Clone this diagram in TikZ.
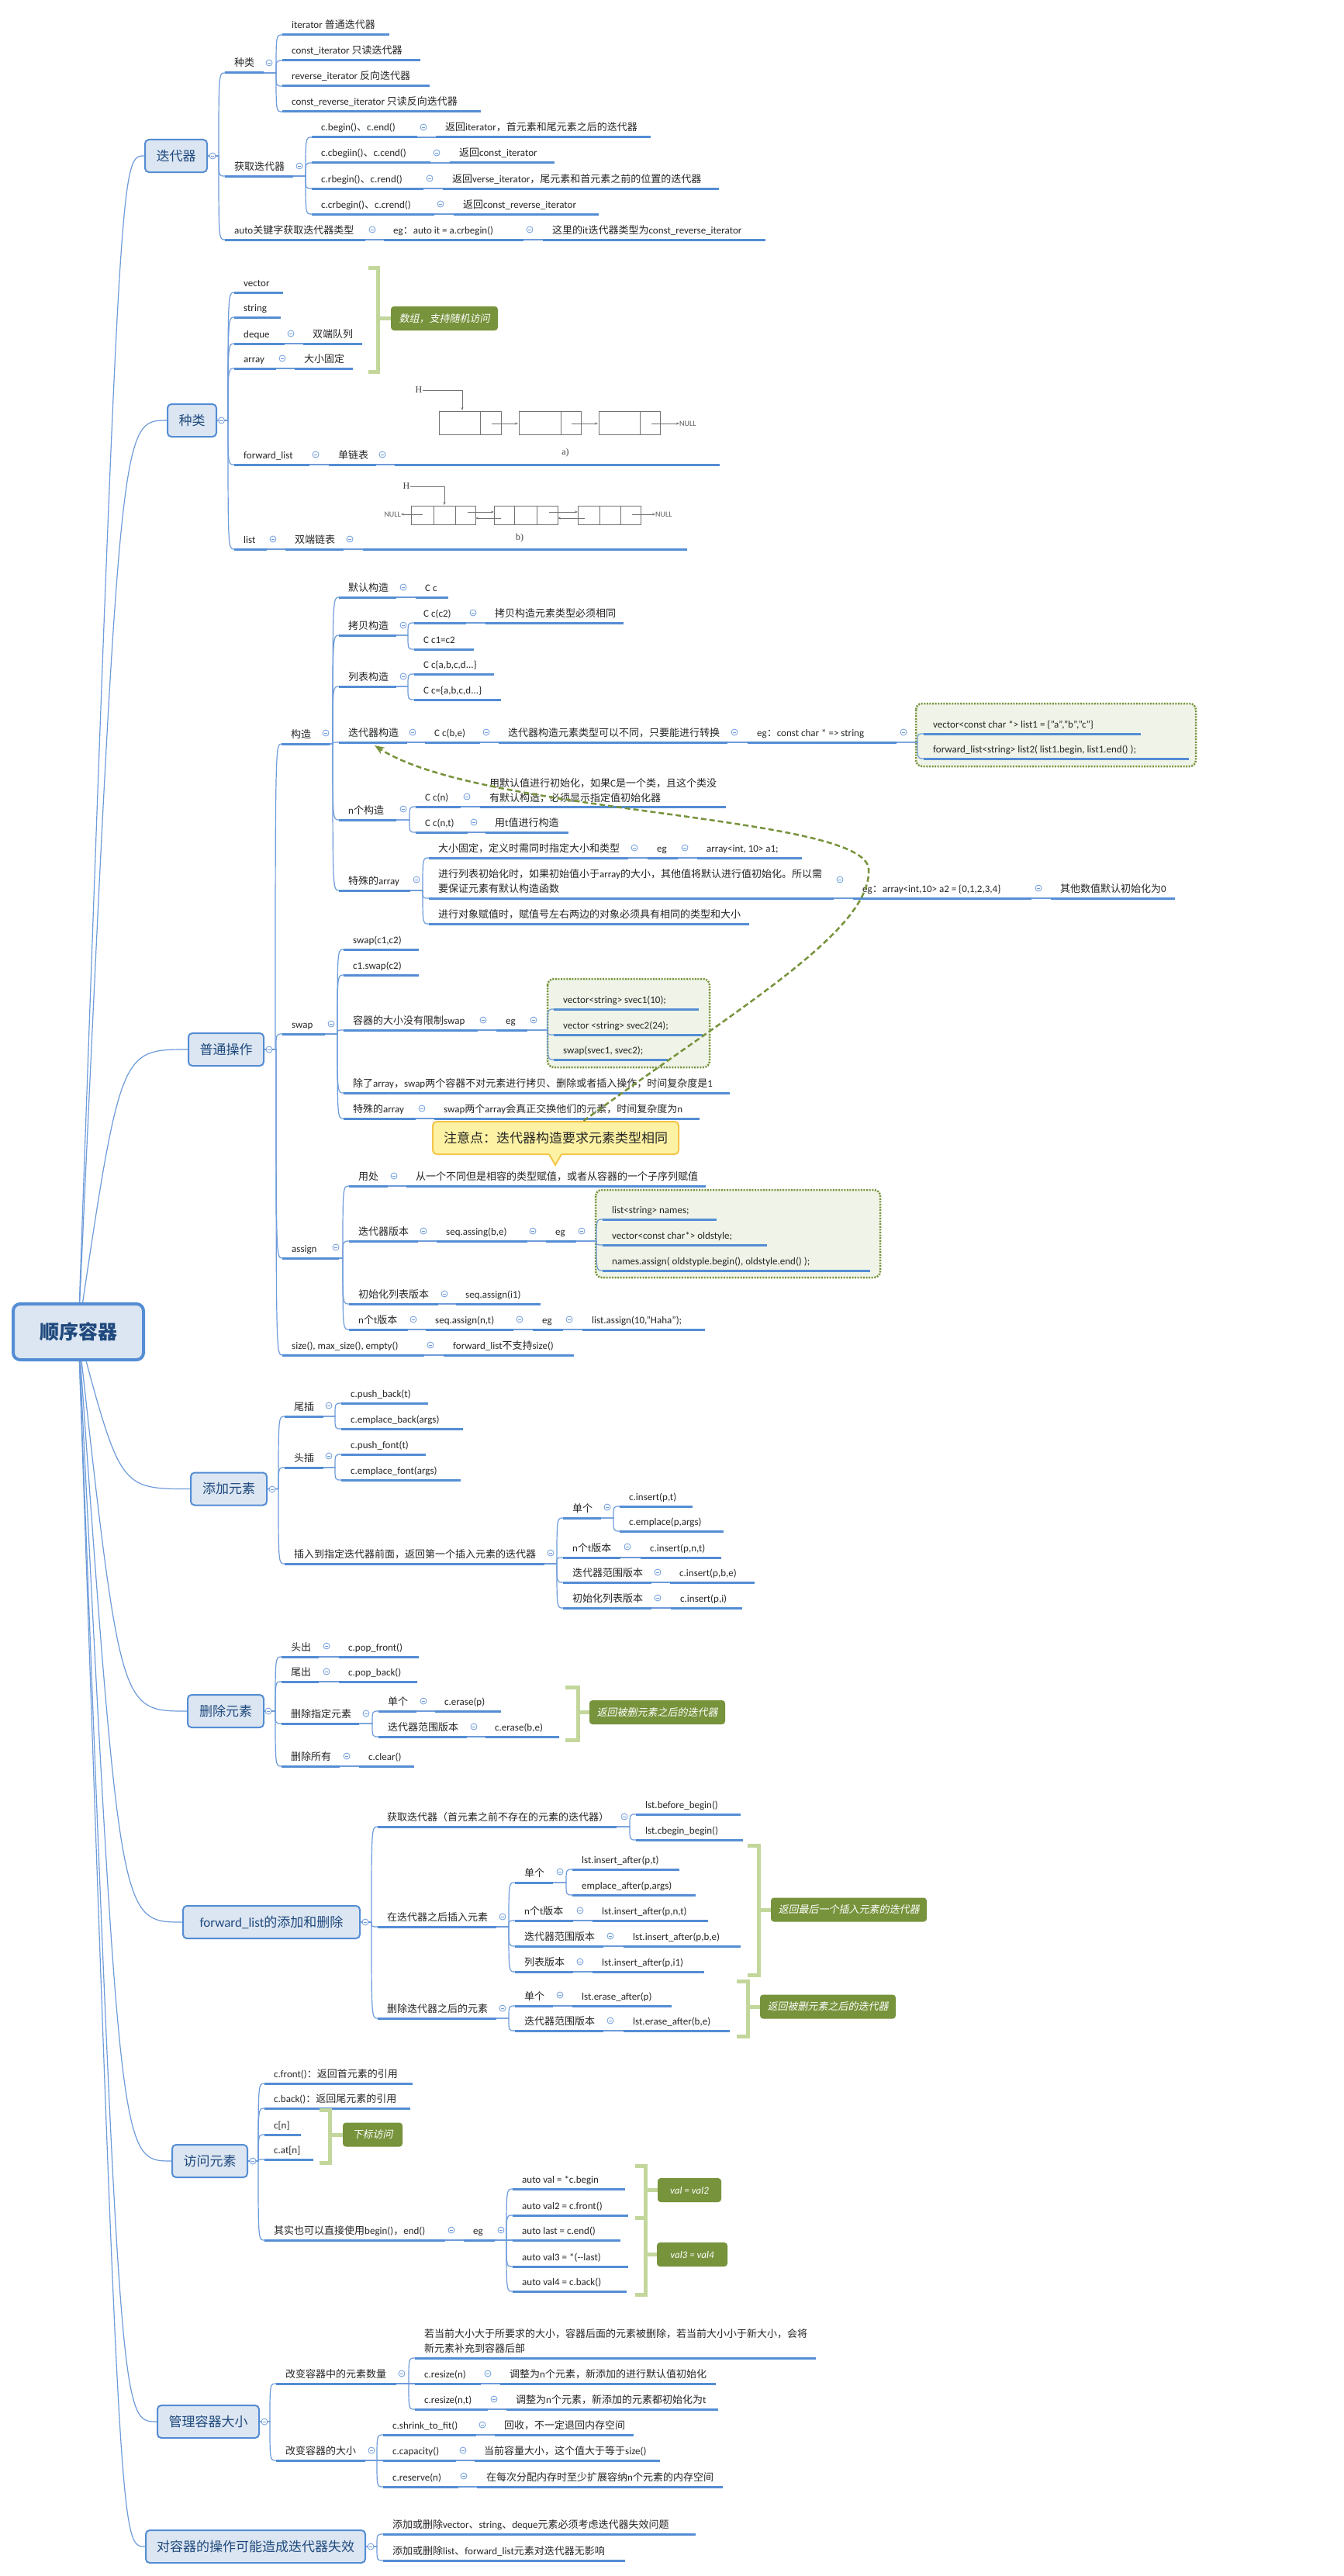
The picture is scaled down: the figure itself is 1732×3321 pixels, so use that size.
\documentclass[tikz,border=0pt]{standalone}
\usepackage{fontspec}
\setmainfont{Carlito}
\newfontfamily\latinfont{Carlito}
\newfontfamily\cjkfont[AutoFakeSlant=0.2]{Noto Sans CJK SC}
\newfontfamily\serifff{Liberation Serif}
\XeTeXinterchartokenstate=1
\newXeTeXintercharclass\cjkcls
\newcount\cjkcnt
\cjkcnt="3000
\loop\XeTeXcharclass\cjkcnt=\cjkcls
\ifnum\cjkcnt<"303F \advance\cjkcnt by 1 \repeat
\cjkcnt="4E00
\loop\XeTeXcharclass\cjkcnt=\cjkcls
\ifnum\cjkcnt<"9FFF \advance\cjkcnt by 1 \repeat
\cjkcnt="FF00
\loop\XeTeXcharclass\cjkcnt=\cjkcls
\ifnum\cjkcnt<"FFEF \advance\cjkcnt by 1 \repeat
\XeTeXinterchartoks 0 \cjkcls = {\cjkfont}
\XeTeXinterchartoks 4095 \cjkcls = {\cjkfont}
\XeTeXinterchartoks \cjkcls 0 = {\latinfont}
\XeTeXinterchartoks \cjkcls 4095 = {\latinfont}
\usetikzlibrary{calc,arrows.meta}
\pgfdeclarelayer{bglayer}
\pgfdeclarelayer{linelayer}
\pgfsetlayers{bglayer,linelayer,main}
\definecolor{ublue}{HTML}{548DD4}
\definecolor{cblue}{HTML}{6D9BDA}
\definecolor{boxfill}{HTML}{DCE6F2}
\definecolor{boxtext}{HTML}{1F497D}
\definecolor{gfill}{HTML}{77933C}
\definecolor{brkc}{HTML}{C3D69B}
\definecolor{dotfill}{HTML}{F0F4E8}
\definecolor{callfill}{HTML}{FDF2A4}
\definecolor{callline}{HTML}{F4C54B}
\definecolor{txt}{HTML}{262626}
\newcommand\mTP[5]{%
  \node[ubar,minimum width=#4,anchor=west] (#1) at (#2,#3) {};
  \draw[uline] (#1.west) -- (#1.east);
  \node[ttext,anchor=base west] (#1-t) at ([xshift=12pt,yshift=8pt]#1.west) {#5};}
\newcommand\mTPM[6]{%
  \node[ubar,minimum width=#4,anchor=west] (#1) at (#2,#3) {};
  \draw[uline] (#1.west) -- (#1.east);
  \node[ttext,anchor=north west] (#1-t) at (#2+12,#5) {#6};}
\newcommand\mMK[2]{\draw[mk] (#1,#2) circle[radius=4pt]; \draw[mkm] (#1-2.2,#2) -- (#1+2.2,#2);}
\newcommand\mBR[2]{\draw[conn] (#1.east) -- ($(#2.west |- #1.east)+(-8,0)$) .. controls ($(#2.west)+(-8,0)$) .. (#2.west);}
\newcommand\mLN[2]{\draw[conn] (#1.east) -- (#2.west);}
\newcommand\mRT[1]{\draw[conn] (root.center) .. controls (rctl |- #1.west) .. (#1.west);}
\newcommand\mBRK[5]{\draw[brkline] (#1,#3) -- (#2,#3) -- (#2,#4) -- (#1,#4);
  \coordinate (bk) at (#2,0); \draw[brkline] (bk |- #5.west) -- (#5.west);}
\begin{document}
\begin{tikzpicture}[x=1pt,y=-1pt,font=\fontsize{13}{19.5}\selectfont,
  ubar/.style={inner sep=0pt,minimum height=0pt,outer sep=0pt},
  uline/.style={draw=ublue,line width=3pt},
  ttext/.style={inner sep=0pt,text=txt,align=left},
  conn/.style={draw=cblue,line width=1.2pt},
  mk/.style={draw=cblue,fill=white,line width=0.8pt},
  mkm/.style={draw=cblue,line width=0.8pt},
  mainbox/.style={draw=ublue,line width=2pt,fill=boxfill,rounded corners=5pt,text=boxtext,font=\fontsize{17}{20}\selectfont,inner sep=0pt,minimum height=42pt},
  rootbox/.style={draw=ublue,line width=4pt,fill=boxfill,rounded corners=9pt,text=boxtext,font=\fontsize{25}{30}\selectfont\bfseries,minimum width=168pt,minimum height=72pt,inner sep=0pt},
  glabel/.style={fill=gfill,rounded corners=4pt,text=white,font=\fontsize{13}{16}\selectfont\itshape,inner sep=0pt,minimum height=31pt},
  brkline/.style={draw=brkc,line width=5pt},
  dotbox/.style={draw=gfill,line width=2.5pt,dash pattern=on 2pt off 1.6pt,fill=dotfill,rounded corners=8pt},
  callout/.style={draw=callline,line width=2pt,fill=callfill,rounded corners=5pt,font=\fontsize{17}{20}\selectfont,minimum width=317pt,minimum height=42pt,inner sep=0pt,text=txt},
  pic/.style={draw=black!55,line width=0.8pt},
  picarr/.style={pic,-{Stealth[length=4pt,width=3pt]}},
  serift/.style={font=\serifff\fontsize{12}{14}\selectfont,text=black!75,inner sep=0pt},
  nullt/.style={font=\fontsize{10}{12}\selectfont,text=black!65,inner sep=0pt},
  dasharr/.style={draw=gfill,line width=2.5pt,dash pattern=on 7pt off 4pt,-{Stealth[length=13pt,width=10pt]}}]
\useasboundingbox (0,0) rectangle (1732,3321);
\begin{pgfonlayer}{bglayer}
\fill[white] (0,0) rectangle (1732,3321);
\draw[dotbox] (1181,907) rectangle (1542,988);
\draw[dotbox] (706,1262) rectangle (915,1376);
\draw[dotbox] (768,1534) rectangle (1135,1647);
\end{pgfonlayer}
\coordinate (rctl) at (155,0);
% root and main boxes
\node[rootbox] (root) at (101,1717) {顺序容器};
\node[mainbox,minimum width=80] (it) at (227,201) {迭代器};
\node[mainbox,minimum width=63] (kind) at (247.5,542) {种类};
\node[mainbox,minimum width=97] (ops) at (291.5,1353) {普通操作};
\node[mainbox,minimum width=98] (add) at (295,1919.5) {添加元素};
\node[mainbox,minimum width=98] (del) at (291,2206) {删除元素};
\node[mainbox,minimum width=228] (fwd) at (350,2478) {forward\_list的添加和删除};
\node[mainbox,minimum width=97] (acc) at (270.5,2786) {访问元素};
\node[mainbox,minimum width=131] (mgr) at (268.5,3122) {管理容器大小};
\node[mainbox,minimum width=283] (inv) at (329.5,3283) {对容器的操作可能造成迭代器失效};
\mMK{274}{201}\mMK{285.5}{542}\mMK{347}{1353}\mMK{351}{1920}\mMK{346}{2206}\mMK{471}{2478}\mMK{326}{2786}\mMK{341}{3122}\mMK{478}{3283}
% iterators
\mTP{itk}{290}{94}{50}{种类}\mMK{347}{81}
\mTP{itk1}{364}{45}{138}{iterator 普通迭代器}
\mTP{itk2}{364}{78}{178}{const\_iterator 只读迭代器}
\mTP{itk3}{364}{111}{190}{reverse\_iterator 反向迭代器}
\mTP{itk4}{364}{144}{256}{const\_reverse\_iterator 只读反向迭代器}
\mTP{itg}{290}{227}{88}{获取迭代器}\mMK{386}{214}
\mTP{itg1}{402}{177}{136}{c.begin()、c.end()}\mMK{546}{164}
\mTP{itg1b}{562}{177}{277}{返回iterator，首元素和尾元素之后的迭代器}
\mTP{itg2}{402}{210}{153}{c.cbegiin()、c.cend()}\mMK{563}{197}
\mTP{itg2b}{580}{210}{135}{返回const\_iterator}
\mTP{itg3}{402}{243}{144}{c.rbegin()、c.rend()}\mMK{554}{230}
\mTP{itg3b}{571}{243}{356}{返回verse\_iterator，尾元素和首元素之前的位置的迭代器}
\mTP{itg4}{402}{276}{158}{c.crbegin()、c.crend()}\mMK{568}{263}
\mTP{itg4b}{585}{276}{187}{返回const\_reverse\_iterator}
\mTP{ita}{290}{309}{181}{auto关键字获取迭代器类型}\mMK{480}{296}
\mTP{ita2}{495}{309}{180}{eg：auto it = a.crbegin()}\mMK{683}{296}
\mTP{ita3}{700}{309}{287}{这里的it迭代器类型为const\_reverse\_iterator}
% kinds
\mTP{kv}{302}{377}{63}{vector}
\mTP{ks}{302}{409}{60}{string}
\mTP{kd}{302}{443}{65}{deque}\mMK{375}{430}
\mTP{kd2}{391}{443}{76}{双端队列}
\mTP{ka}{302}{475}{54}{array}\mMK{364}{462}
\mTP{ka2}{380}{475}{75}{大小固定}
\node[glabel,minimum width=138] (arrlab) at (573,410.5) {数组，支持随机访问};
\mBRK{475}{487}{345}{479}{arrlab}
\mTP{kf}{302}{599}{97}{forward\_list}\mMK{407}{586}
\mTP{kf2}{424}{599}{61}{单链表}\mMK{493}{586}
\mTP{kf3}{509}{599}{419}{}
\mTP{kl}{302}{708}{42}{list}\mMK{352}{695}
\mTP{kl2}{368}{708}{75}{双端链表}\mMK{451}{695}
\mTP{kl3}{468}{708}{418}{}
% picture a
\node[serift] (Ha) at (540,503) {H};
\draw[picarr] (Ha.east) -| (596,529);
\draw[pic] (566,530) rectangle (646,560) (619,530) -- (619,560);
\draw[pic] (669,530) rectangle (749,560) (723,530) -- (723,560);
\draw[pic] (772,530) rectangle (851,560) (825,530) -- (825,560);
\draw[picarr] (634,546) -- (668,546);
\draw[picarr] (737,546) -- (771,546);
\node[nullt,anchor=west] (Na) at (876,546) {NULL};
\draw[picarr] (840,546) -- (Na.west);
\node[serift] (la) at (729,584) {a)};
% picture b
\node[serift] (Hb) at (524,627) {H};
\draw[picarr] (Hb.east) -| (573,651);
\draw[pic] (530,652) rectangle (613,676) (559,652) -- (559,676) (587,652) -- (587,676);
\draw[pic] (637,652) rectangle (719,676) (663,652) -- (663,676) (692,652) -- (692,676);
\draw[pic] (745,652) rectangle (826,676) (773,652) -- (773,676) (800,652) -- (800,676);
\node[nullt,anchor=east] (Nb1) at (517,663) {NULL};
\draw[picarr] (545,663) -- (Nb1.east);
\draw[picarr] (603,660) -- (637,660);
\draw[picarr] (646,668) -- (613,668);
\draw[picarr] (708,660) -- (745,660);
\draw[picarr] (754,668) -- (719,668);
\node[nullt,anchor=west] (Nb2) at (845,663) {NULL};
\draw[picarr] (815,663) -- (Nb2.west);
\node[serift] (lb) at (670,694) {b)};
% construct
\mTP{gz}{363}{959}{62}{构造}\mMK{420}{945}
\mTP{gz1}{437}{770}{74}{默认构造}\mMK{520}{757}
\mTP{gz1b}{536}{770}{42}{C c}
\mTP{gz2}{437}{819}{74}{拷贝构造}\mMK{520}{806}
\mTP{gz2a}{534}{803}{67}{C c(c2)}\mMK{610}{790}
\mTP{gz2ab}{626}{803}{178}{拷贝构造元素类型必须相同}
\mTP{gz2b}{534}{837}{77}{C c1=c2}
\mTP{gz3}{437}{885}{74}{列表构造}\mMK{520}{872}
\mTP{gz3a}{534}{869}{103}{C c\{a,b,c,d...\}}
\mTP{gz3b}{534}{902}{112}{C c=\{a,b,c,d...\}}
\mTP{gz4}{437}{957}{88}{迭代器构造}\mMK{532}{944}
\mTP{gz4b}{548}{957}{71}{C c(b,e)}\mMK{627}{944}
\mTP{gz4c}{643}{957}{295}{迭代器构造元素类型可以不同，只要能进行转换}\mMK{947}{944}
\mTP{gz4d}{964}{957}{192}{eg：const char * => string}\mMK{1165}{944}
\mTP{gz4e}{1191}{946}{280}{vector<const char *> list1 = \{"a","b","c"\}}
\mTP{gz4f}{1191}{978}{342}{forward\_list<string> list2( list1.begin, list1.end() );}
\mTP{gz5}{437}{1057}{74}{n个构造}\mMK{520}{1043}
\mTP{gz5a}{536}{1040}{58}{C c(n)}\mMK{602}{1027}
\mTPM{gz5ab}{619}{1040}{317}{1003}{用默认值进行初始化，如果C是一个类，且这个类没\\有默认构造，必须显示指定值初始化器}
\mTP{gz5b}{536}{1073}{67}{C c(n,t)}\mMK{611}{1060}
\mTP{gz5bb}{626}{1073}{107}{用t值进行构造}
\mTP{gz6}{437}{1148}{92}{特殊的array}\mMK{537}{1134}
\mTP{gz6a}{553}{1106}{257}{大小固定，定义时需同时指定大小和类型}\mMK{818}{1093}
\mTP{gz6ab}{835}{1106}{39}{eg}\mMK{883}{1093}
\mTP{gz6ac}{899}{1106}{135}{array<int, 10> a1;}
\mTPM{gz6b}{553}{1158}{522}{1120}{进行列表初始化时，如果初始值小于array的大小，其他值将默认进行值初始化。所以需\\要保证元素有默认构造函数}\mMK{1083}{1134}
\mTP{gz6bb}{1100}{1158}{230}{eg：array<int,10> a2 = \{0,1,2,3,4\}}\mMK{1339}{1145}
\mTP{gz6bc}{1355}{1158}{160}{其他数值默认初始化为0}
\mTP{gz6c}{553}{1191}{413}{进行对象赋值时，赋值号左右两边的对象必须具有相同的类型和大小}
% swap
\mTP{sw}{364}{1333}{55}{swap}\mMK{427}{1320}
\mTP{sw1}{443}{1224}{97}{swap(c1,c2)}
\mTP{sw2}{443}{1257}{97}{c1.swap(c2)}
\mTP{sw3}{443}{1328}{173}{容器的大小没有限制swap}\mMK{623}{1315}
\mTP{sw3b}{640}{1328}{40}{eg}\mMK{688}{1315}
\mTP{sw3c}{714}{1301}{187}{vector<string> svec1(10);}
\mTP{sw3d}{714}{1334}{192}{vector <string> svec2(24);}
\mTP{sw3e}{714}{1366}{147}{swap(svec1, svec2);}
\mTP{sw4}{443}{1409}{498}{除了array，swap两个容器不对元素进行拷贝、删除或者插入操作，时间复杂度是1}
\mTP{sw5}{443}{1442}{93}{特殊的array}\mMK{544}{1429}
\mTP{sw5b}{560}{1442}{342}{swap两个array会真正交换他们的元素，时间复杂度为n}
% assign
\mTP{as}{364}{1622}{73}{assign}\mMK{433}{1608}
\mTP{as1}{450}{1529}{50}{用处}\mMK{508}{1516}
\mTP{as1b}{524}{1529}{386}{从一个不同但是相容的类型赋值，或者从容器的一个子序列赋值}
\mTP{as2}{450}{1600}{89}{迭代器版本}\mMK{546}{1587}
\mTP{as2b}{563}{1600}{117}{seq.assing(b,e)}\mMK{687}{1587}
\mTP{as2c}{704}{1600}{39}{eg}\mMK{750}{1587}
\mTP{as2d}{777}{1572}{147}{list<string> names;}
\mTP{as2e}{777}{1605}{212}{vector<const char*> oldstyle;}
\mTP{as2f}{777}{1638}{345}{names.assign( oldstyple.begin(), oldstyle.end() );}
\mTP{as3}{450}{1681}{115}{初始化列表版本}\mMK{573}{1668}
\mTP{as3b}{588}{1681}{109}{seq.assign(i1)}
\mTP{as4}{450}{1714}{76}{n个t版本}\mMK{533}{1701}
\mTP{as4b}{549}{1714}{113}{seq.assign(n,t)}\mMK{670}{1701}
\mTP{as4c}{687}{1714}{39}{eg}\mMK{734}{1701}
\mTP{as4d}{751}{1714}{158}{list.assign(10,"Haha");}
\mTP{sz}{364}{1747}{183}{size(), max\_size(), empty()}\mMK{555}{1734}
\mTP{sz2}{572}{1747}{168}{forward\_list不支持size()}
% callout
\node[callout] (note) at (716.5,1467) {注意点：迭代器构造要求元素类型相同};
\fill[callfill] (707,1486) -- (725,1486) -- (716,1502) -- cycle;
\draw[draw=callline,line width=2pt] (708,1488) -- (716,1502) -- (724,1488);
% add
\mTP{ad1}{367}{1826}{50}{尾插}\mMK{424}{1812}
\mTP{ad1a}{440}{1809}{112}{c.push\_back(t)}
\mTP{ad1b}{440}{1842}{157}{c.emplace\_back(args)}
\mTP{ad2}{367}{1892}{50}{头插}\mMK{424}{1877}
\mTP{ad2a}{440}{1875}{109}{c.push\_font(t)}
\mTP{ad2b}{440}{1908}{154}{c.emplace\_font(args)}
\mTP{ad3}{367}{2016}{335}{插入到指定迭代器前面，返回第一个插入元素的迭代器}\mMK{710}{2002}
\mTP{ad3a}{726}{1957}{49}{单个}\mMK{783}{1943}
\mTP{ad3a1}{799}{1942}{94}{c.insert(p,t)}
\mTP{ad3a2}{799}{1974}{134}{c.emplace(p,args)}
\mTP{ad3b}{726}{2008}{74}{n个t版本}\mMK{809}{1994}
\mTP{ad3b2}{826}{2008}{104}{c.insert(p,n,t)}
\mTP{ad3c}{726}{2040}{114}{迭代器范围版本}\mMK{848}{2027}
\mTP{ad3c2}{864}{2040}{109}{c.insert(p,b,e)}
\mTP{ad3d}{726}{2073}{114}{初始化列表版本}\mMK{848}{2060}
\mTP{ad3d2}{865}{2073}{92}{c.insert(p,i)}
% delete
\mTP{dl1}{363}{2136}{48}{头出}\mMK{421}{2122}
\mTP{dl1b}{437}{2136}{103}{c.pop\_front()}
\mTP{dl2}{363}{2168}{48}{尾出}\mMK{421}{2155}
\mTP{dl2b}{437}{2168}{101}{c.pop\_back()}
\mTP{dl3}{363}{2222}{100}{删除指定元素}\mMK{472}{2209}
\mTP{dl3a}{488}{2206}{49}{单个}\mMK{546}{2193}
\mTP{dl3ab}{561}{2206}{85}{c.erase(p)}
\mTP{dl3b}{488}{2239}{114}{迭代器范围版本}\mMK{611}{2226}
\mTP{dl3bb}{626}{2239}{95}{c.erase(b,e)}
\node[glabel,minimum width=175] (dellab) at (847.5,2207.5) {返回被删元素之后的迭代器};
\mBRK{729}{745}{2175}{2243}{dellab}
\mTP{dl4}{363}{2277}{75}{删除所有}\mMK{447}{2264}
\mTP{dl4b}{463}{2277}{71}{c.clear()}
% forward_list
\mTP{fl1}{487}{2355}{308}{获取迭代器（首元素之前不存在的元素的迭代器）}\mMK{805}{2342}
\mTP{fl1a}{820}{2339}{135}{lst.before\_begin()}
\mTP{fl1b}{820}{2372}{138}{lst.cbegin\_begin()}
\mTP{fl2}{487}{2484}{153}{在迭代器之后插入元素}\mMK{648}{2471}
\mTP{fl2a}{664}{2427}{49}{单个}\mMK{722}{2413}
\mTP{fl2a1}{738}{2410}{138}{lst.insert\_after(p,t)}
\mTP{fl2a2}{738}{2443}{159}{emplace\_after(p,args)}
\mTP{fl2b}{664}{2476}{75}{n个t版本}\mMK{748}{2463}
\mTP{fl2b2}{764}{2476}{149}{lst.insert\_after(p,n,t)}
\mTP{fl2c}{664}{2509}{114}{迭代器范围版本}\mMK{787}{2496}
\mTP{fl2c2}{804}{2509}{151}{lst.insert\_after(p,b,e)}
\mTP{fl2d}{664}{2542}{75}{列表版本}\mMK{748}{2529}
\mTP{fl2d2}{764}{2542}{144}{lst.insert\_after(p,i1)}
\node[glabel,minimum width=201] (inslab) at (1094.5,2462) {返回最后一个插入元素的迭代器};
\mBRK{964}{978}{2379}{2546}{inslab}
\mTP{fl3}{487}{2602}{153}{删除迭代器之后的元素}\mMK{648}{2589}
\mTP{fl3a}{664}{2586}{49}{单个}\mMK{722}{2572}
\mTP{fl3a2}{738}{2586}{128}{lst.erase\_after(p)}
\mTP{fl3b}{664}{2618}{114}{迭代器范围版本}\mMK{787}{2605}
\mTP{fl3b2}{804}{2618}{137}{lst.erase\_after(b,e)}
\node[glabel,minimum width=175] (erslab) at (1067.5,2587) {返回被删元素之后的迭代器};
\mBRK{950}{964}{2554}{2625}{erslab}
% access
\mTP{ac1}{341}{2686}{191}{c.front()：返回首元素的引用}
\mTP{ac2}{341}{2718}{188}{c.back()：返回尾元素的引用}
\mTP{ac3}{341}{2752}{47}{c[n]}
\mTP{ac4}{341}{2784}{63}{c.at[n]}
\node[glabel,minimum width=77] (idxlab) at (480.5,2752) {下标访问};
\mBRK{412}{425}{2720}{2788}{idxlab}
\mTP{ac5}{341}{2888}{233}{其实也可以直接使用begin()，end()}\mMK{582}{2875}
\mTP{ac5b}{598}{2888}{40}{eg}\mMK{646}{2875}
\mTP{ac5c}{661}{2822}{145}{auto val = *c.begin}
\mTP{ac5d}{661}{2856}{149}{auto val2 = c.front()}
\mTP{ac5e}{661}{2888}{139}{auto last = c.end()}
\mTP{ac5f}{661}{2922}{149}{auto val3 = *({-}{-}last)}
\mTP{ac5g}{661}{2954}{147}{auto val4 = c.back()}
\node[glabel,minimum width=82] (v12) at (889,2823.5) {val = val2};
\node[glabel,minimum width=91] (v34) at (892.5,2906.5) {val3 = val4};
\mBRK{819}{832}{2792}{2859}{v12}
\mBRK{819}{832}{2859}{2958}{v34}
% manage
\mTP{mg1}{356}{3073}{155}{改变容器中的元素数量}\mMK{518}{3060}
\mTPM{mg1a}{535}{3040}{517}{3002}{若当前大小大于所要求的大小，容器后面的元素被删除，若当前大小小于新大小，会将\\新元素补充到容器后部}
\mTP{mg1b}{535}{3073}{85}{c.resize(n)}\mMK{629}{3060}
\mTP{mg1b2}{645}{3073}{278}{调整为n个元素，新添加的进行默认值初始化}
\mTP{mg1c}{535}{3106}{94}{c.resize(n,t)}\mMK{637}{3093}
\mTP{mg1c2}{653}{3106}{273}{调整为n个元素，新添加的元素都初始化为t}
\mTP{mg2}{356}{3172}{115}{改变容器的大小}\mMK{479}{3159}
\mTP{mg2a}{494}{3139}{120}{c.shrink\_to\_fit()}\mMK{622}{3126}
\mTP{mg2a2}{638}{3139}{179}{回收，不一定退回内存空间}
\mTP{mg2b}{494}{3172}{94}{c.capacity()}\mMK{597}{3159}
\mTP{mg2b2}{612}{3172}{239}{当前容量大小，这个值大于等于size()}
\mTP{mg2c}{494}{3206}{97}{c.reserve(n)}\mMK{598}{3192}
\mTP{mg2c2}{615}{3206}{317}{在每次分配内存时至少扩展容纳n个元素的内存空间}
% invalidation
\mTP{iv1}{494}{3267}{403}{添加或删除vector、string、deque元素必须考虑迭代器失效问题}
\mTP{iv2}{494}{3301}{312}{添加或删除list、forward\_list元素对迭代器无影响}
% connectors
\begin{pgfonlayer}{linelayer}
\mRT{it}\mRT{kind}\mRT{ops}\mRT{add}\mRT{del}\mRT{fwd}\mRT{acc}\mRT{mgr}\mRT{inv}
\mBR{it}{itk}\mBR{it}{itg}\mBR{it}{ita}
\mBR{itk}{itk1}\mBR{itk}{itk2}\mBR{itk}{itk3}\mBR{itk}{itk4}
\mBR{itg}{itg1}\mBR{itg}{itg2}\mBR{itg}{itg3}\mBR{itg}{itg4}
\mLN{itg1}{itg1b}\mLN{itg2}{itg2b}\mLN{itg3}{itg3b}\mLN{itg4}{itg4b}
\mLN{ita}{ita2}\mLN{ita2}{ita3}
\mBR{kind}{kv}\mBR{kind}{ks}\mBR{kind}{kd}\mBR{kind}{ka}\mBR{kind}{kf}\mBR{kind}{kl}
\mLN{kd}{kd2}\mLN{ka}{ka2}\mLN{kf}{kf2}\mLN{kf2}{kf3}\mLN{kl}{kl2}\mLN{kl2}{kl3}
\mBR{ops}{gz}\mBR{ops}{sw}\mBR{ops}{as}\mBR{ops}{sz}
\mBR{gz}{gz1}\mBR{gz}{gz2}\mBR{gz}{gz3}\mBR{gz}{gz4}\mBR{gz}{gz5}\mBR{gz}{gz6}
\mLN{gz1}{gz1b}\mBR{gz2}{gz2a}\mBR{gz2}{gz2b}\mLN{gz2a}{gz2ab}
\mBR{gz3}{gz3a}\mBR{gz3}{gz3b}
\mLN{gz4}{gz4b}\mLN{gz4b}{gz4c}\mLN{gz4c}{gz4d}\mBR{gz4d}{gz4e}\mBR{gz4d}{gz4f}
\mBR{gz5}{gz5a}\mBR{gz5}{gz5b}\mLN{gz5a}{gz5ab}\mLN{gz5b}{gz5bb}
\mBR{gz6}{gz6a}\mBR{gz6}{gz6b}\mBR{gz6}{gz6c}\mLN{gz6a}{gz6ab}\mLN{gz6ab}{gz6ac}\mLN{gz6b}{gz6bb}\mLN{gz6bb}{gz6bc}
\mBR{sw}{sw1}\mBR{sw}{sw2}\mBR{sw}{sw3}\mBR{sw}{sw4}\mBR{sw}{sw5}
\mLN{sw3}{sw3b}\mBR{sw3b}{sw3c}\mBR{sw3b}{sw3d}\mBR{sw3b}{sw3e}\mLN{sw5}{sw5b}
\mBR{as}{as1}\mBR{as}{as2}\mBR{as}{as3}\mBR{as}{as4}
\mLN{as1}{as1b}\mLN{as2}{as2b}\mLN{as2b}{as2c}\mBR{as2c}{as2d}\mBR{as2c}{as2e}\mBR{as2c}{as2f}
\mLN{as3}{as3b}\mLN{as4}{as4b}\mLN{as4b}{as4c}\mLN{as4c}{as4d}\mLN{sz}{sz2}
\mBR{add}{ad1}\mBR{add}{ad2}\mBR{add}{ad3}
\mBR{ad1}{ad1a}\mBR{ad1}{ad1b}\mBR{ad2}{ad2a}\mBR{ad2}{ad2b}
\mBR{ad3}{ad3a}\mBR{ad3}{ad3b}\mBR{ad3}{ad3c}\mBR{ad3}{ad3d}
\mBR{ad3a}{ad3a1}\mBR{ad3a}{ad3a2}\mLN{ad3b}{ad3b2}\mLN{ad3c}{ad3c2}\mLN{ad3d}{ad3d2}
\mBR{del}{dl1}\mBR{del}{dl2}\mBR{del}{dl3}\mBR{del}{dl4}
\mLN{dl1}{dl1b}\mLN{dl2}{dl2b}\mBR{dl3}{dl3a}\mBR{dl3}{dl3b}\mLN{dl3a}{dl3ab}\mLN{dl3b}{dl3bb}\mLN{dl4}{dl4b}
\mBR{fwd}{fl1}\mBR{fwd}{fl2}\mBR{fwd}{fl3}
\mBR{fl1}{fl1a}\mBR{fl1}{fl1b}
\mBR{fl2}{fl2a}\mBR{fl2}{fl2b}\mBR{fl2}{fl2c}\mBR{fl2}{fl2d}
\mBR{fl2a}{fl2a1}\mBR{fl2a}{fl2a2}\mLN{fl2b}{fl2b2}\mLN{fl2c}{fl2c2}\mLN{fl2d}{fl2d2}
\mBR{fl3}{fl3a}\mBR{fl3}{fl3b}\mLN{fl3a}{fl3a2}\mLN{fl3b}{fl3b2}
\mBR{acc}{ac1}\mBR{acc}{ac2}\mBR{acc}{ac3}\mBR{acc}{ac4}\mBR{acc}{ac5}
\mLN{ac5}{ac5b}\mBR{ac5b}{ac5c}\mBR{ac5b}{ac5d}\mBR{ac5b}{ac5e}\mBR{ac5b}{ac5f}\mBR{ac5b}{ac5g}
\mBR{mgr}{mg1}\mBR{mgr}{mg2}
\mBR{mg1}{mg1a}\mBR{mg1}{mg1b}\mBR{mg1}{mg1c}\mLN{mg1b}{mg1b2}\mLN{mg1c}{mg1c2}
\mBR{mg2}{mg2a}\mBR{mg2}{mg2b}\mBR{mg2}{mg2c}\mLN{mg2a}{mg2a2}\mLN{mg2b}{mg2b2}\mLN{mg2c}{mg2c2}
\mBR{inv}{iv1}\mBR{inv}{iv2}
\end{pgfonlayer}
% dashed relation
\draw[dasharr] ($(note.north)+(36,0)$) .. controls (950,1300) and (1125,1200) .. (1120,1120) .. controls (1115,1050) and (620,1050) .. ($(gz4.west)+(46,4)$);
\end{tikzpicture}
\end{document}
